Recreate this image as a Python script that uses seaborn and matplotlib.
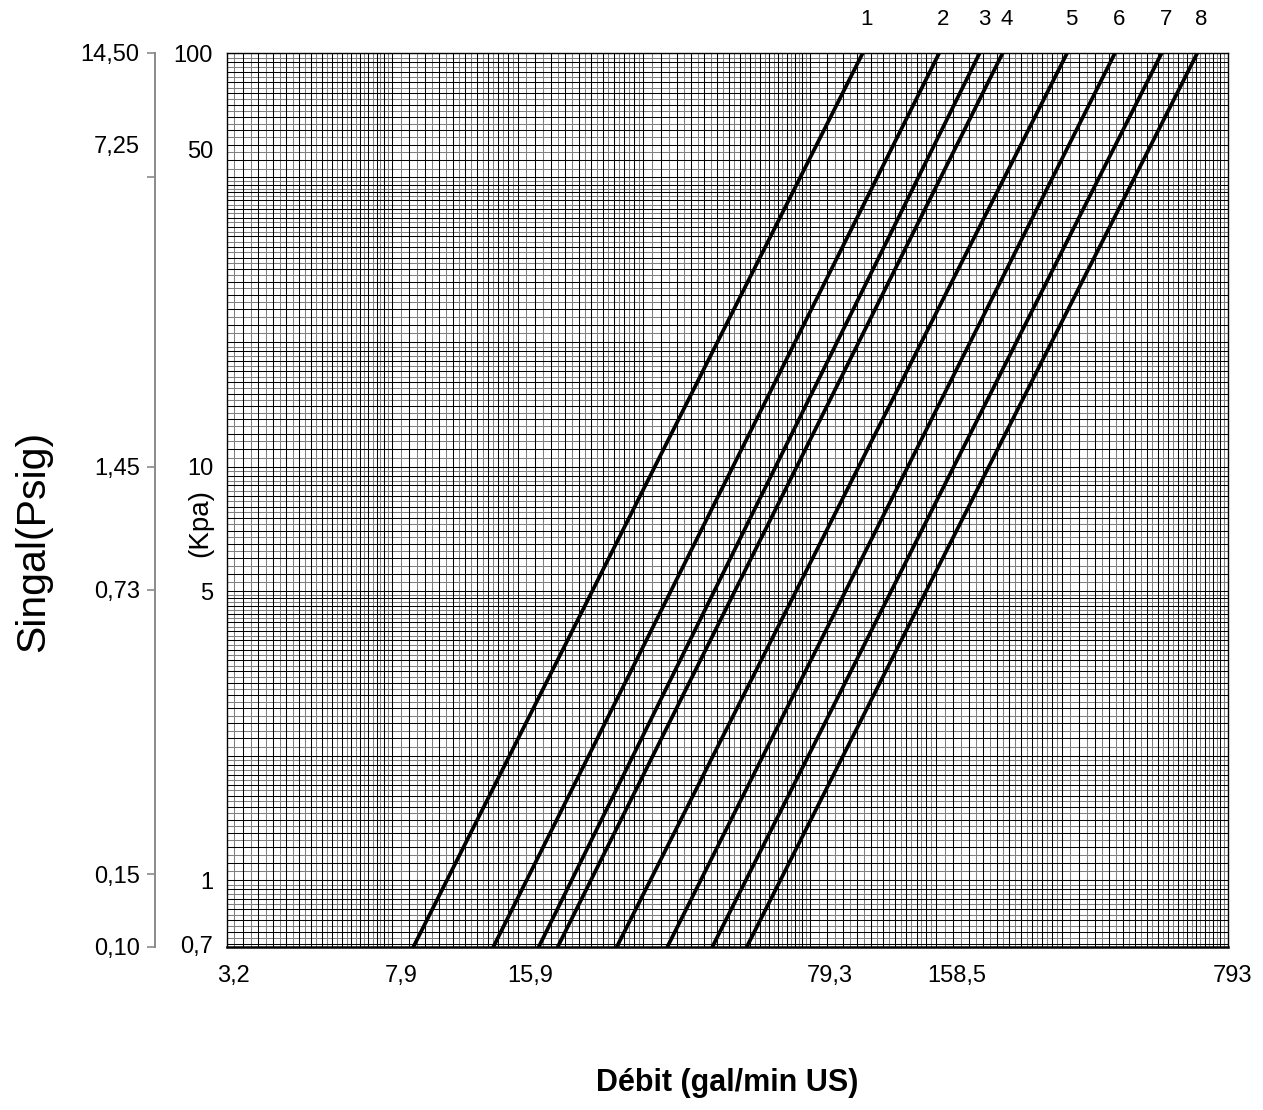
import numpy as np
import pandas as pd
import matplotlib
matplotlib.use('Agg')
import matplotlib.pyplot as plt
import matplotlib.transforms as mtransforms
import seaborn as sns

courbes = ['1', '2', '3', '4', '5', '6', '7', '8']
debit_bas = [8.93, 13.87, 17.81, 19.77, 27.37, 36.16, 46.33, 56.0]        # gal/min au bas de l'échelle
debit_haut = [106.1, 161.7, 202.0, 229.3, 327.0, 425.6, 550.5, 669.8]    # gal/min à 100 kPa
pression = [0.689, 100]                                                  # kPa

x_ticks = [3.2, 7.9, 15.9, 79.3, 158.5, 793]
x_labels = ['3,2', '7,9', '15,9', '79,3', '158,5', '793']
y_ticks = [100, 50, 10, 5, 1, 0.7]
y_labels = ['100', '50', '10', '5', '1', '0,7']
psi_ticks = [14.50, 7.25, 1.45, 0.73, 0.15, 0.10]
psi_labels = ['14,50', '7,25', '1,45', '0,73', '0,15', '0,10']

PSI_PAR_KPA = 0.145
GPM_PAR_LS = 15.85   # 1 L/s en gal/min : le papier log est gradué en L/s

# tableau long pour seaborn
lignes = []
for c, lo, hi in zip(courbes, debit_bas, debit_haut):
    lignes.append({'courbe': c, 'debit': lo, 'kpa': pression[0]})
    lignes.append({'courbe': c, 'debit': hi, 'kpa': pression[1]})
df = pd.DataFrame(lignes)

sns.set_theme(style='white')
plt.rcParams['font.family'] = ['Liberation Sans', 'DejaVu Sans']
plt.rcParams['text.color'] = 'black'
plt.rcParams['xtick.color'] = 'black'
plt.rcParams['ytick.color'] = 'black'
plt.rcParams['xtick.labelcolor'] = 'black'
plt.rcParams['ytick.labelcolor'] = 'black'

fig = plt.figure(figsize=(12.63, 11.10), dpi=100)
ax = fig.add_axes([227 / 1263, 163 / 1110, 1001 / 1263, 894 / 1110])
ax.set_xscale('log')
ax.set_yscale('log')
ax.set_xlim(3.2, 793)
ax.set_ylim(pression[0], pression[1])


# quadrillage type papier logarithmique
def papier_log(base, vmin, vmax):
    noirs = np.concatenate([np.arange(1.0, 2.0, 0.1), np.arange(2.0, 5.0, 0.2), np.arange(5.0, 10.0, 0.5)])
    gris = np.concatenate([np.arange(1.05, 2.0, 0.1), np.arange(2.1, 5.0, 0.2), np.arange(5.25, 10.0, 0.5)])
    n, g = [], []
    for k in range(-4, 4):
        d = base * 10.0 ** k
        n.extend(noirs * d)
        g.extend(gris * d)
    n = [v for v in n if vmin <= v <= vmax]
    g = [v for v in g if vmin <= v <= vmax]
    return n, g


xn, xg = papier_log(GPM_PAR_LS, 3.2, 793)
yn, yg = papier_log(1.0, pression[0], pression[1])
ax.vlines(xg, 0, 1, transform=ax.get_xaxis_transform(), colors='#808080', lw=0.75, zorder=1)
ax.hlines(yg, 0, 1, transform=ax.get_yaxis_transform(), colors='#808080', lw=0.75, zorder=1)
ax.vlines(xn, 0, 1, transform=ax.get_xaxis_transform(), colors='black', lw=0.75, zorder=2)
ax.hlines(yn, 0, 1, transform=ax.get_yaxis_transform(), colors='black', lw=0.75, zorder=2)

sns.lineplot(data=df, x='debit', y='kpa', hue='courbe', units='courbe', estimator=None,
             palette=['black'] * len(courbes), lw=2.7, legend=False, ax=ax, zorder=3)

# numéros des courbes en haut
for c, hi in zip(courbes, debit_haut):
    ax.annotate(c, xy=(hi, pression[1]), xytext=(3, 24), textcoords='offset points',
                ha='center', va='center', fontsize=16, annotation_clip=False)

ax.set_xticks(x_ticks, x_labels)
ax.set_yticks(y_ticks, y_labels)
ax.xaxis.set_minor_locator(plt.NullLocator())
ax.yaxis.set_minor_locator(plt.NullLocator())
ax.tick_params(axis='both', length=0, labelsize=17)
ax.tick_params(axis='x', pad=13)
ax.tick_params(axis='y', pad=10)
ax.set_xlabel('')
ax.set_ylabel('')
for s in ax.spines.values():
    s.set_color('black')
    s.set_linewidth(1.0)
ax.spines['bottom'].set_linewidth(1.8)


def decaler(label, dx, dy):
    label.set_transform(label.get_transform() +
                        mtransforms.ScaledTranslation(dx / 100, dy / 100, fig.dpi_scale_trans))


for lab, dx in zip(ax.get_xticklabels(), [6, 10, 12, 20, 21, 5]):
    decaler(lab, dx, 0)
decaler(ax.get_yticklabels()[1], 0, 28)

# axe secondaire en psi
sec = ax.secondary_yaxis(-72 / 1001, functions=(lambda k: k * PSI_PAR_KPA, lambda p: p / PSI_PAR_KPA))
sec.set_yticks(psi_ticks, psi_labels)
sec.yaxis.set_minor_locator(plt.NullLocator())
sec.tick_params(axis='y', length=6, width=1.2, color='#8a8a8a', pad=5, labelsize=17)
sec.spines['left'].set_color('#8a8a8a')
sec.spines['left'].set_linewidth(1.4)
decaler(sec.get_yticklabels()[1], 0, 33)

fig.text(200 / 1263, 1 - 523 / 1110, '(Kpa)', rotation=90, ha='center', va='center', fontsize=20)
fig.text(33 / 1263, 1 - 541 / 1110, 'Singal(Psig)', rotation=90, ha='center', va='center', fontsize=29.5)
fig.text(727 / 1263, 1 - 1083 / 1110, 'Débit (gal/min US)', ha='center', va='center',
         fontsize=22, fontweight='bold')

fig.savefig('out.png', dpi=100)
